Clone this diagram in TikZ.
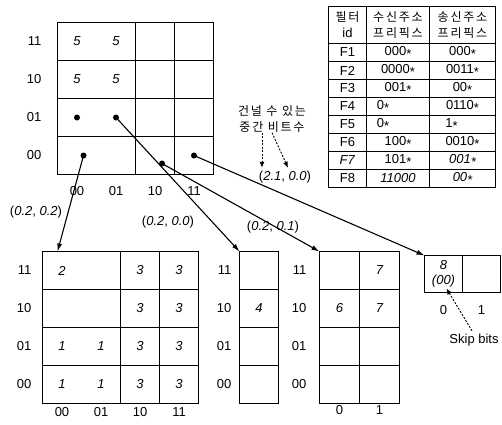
\documentclass[tikz,border=0pt]{standalone}
\usepackage{fontspec}
\setmainfont{Liberation Sans}
\newfontfamily\kr[LetterSpace=15]{Noto Sans CJK KR}
\newcommand{\krtxt}[1]{{\kr\fontsize{12}{16}\selectfont #1}}
\newcommand{\st}{\raisebox{-0.35ex}{*}}
\usetikzlibrary{arrows.meta, positioning}

\begin{document}
\begin{tikzpicture}[x=1pt, y=-1pt, >={Latex[length=8pt,width=5pt]}]
    % Define styles for the nodes
    \tikzstyle{cell} = [
        draw, line width=1.4pt, inner sep=0, outer sep=0,
        minimum width=39pt, minimum height=38pt,
        font=\fontsize{13}{15}\selectfont\itshape
    ]
    \tikzstyle{cell_x2} = [cell, minimum width=78pt]
    \tikzstyle{lbl} = [inner sep=0, font=\fontsize{13}{15}\selectfont]
    \tikzstyle{trie_dot} = [circle, fill, inner sep=0, minimum size=6pt]
    \tikzstyle{link} = [->, line width=1.1pt]
    \tikzstyle{hint_arrow} = [
        -{Latex[length=6pt,width=5pt]}, line width=0.9pt,
        dash pattern=on 2pt off 1.5pt
    ]
    \tikzstyle{tcell} = [
        draw, line width=1pt, inner sep=0, outer sep=0,
        minimum height=18pt, font=\fontsize{13}{16}\selectfont
    ]
    \tikzstyle{tid} = [tcell, minimum width=38pt]
    \tikzstyle{tdst} = [tcell, minimum width=63pt]
    \tikzstyle{tsrc} = [tcell, minimum width=66pt]

    \useasboundingbox (0,0) rectangle (502,424);

    % Root grid
    \node[cell_x2, anchor=north west] (r11a) at (57.5,22.5) {5\hspace{32pt}5};
    \node[cell, anchor=west] (r11b) at (r11a.east) {};
    \node[cell, anchor=west] (r11c) at (r11b.east) {};
    \node[cell_x2, below=0pt of r11a] (r10a) {5\hspace{32pt}5};
    \node[cell, anchor=west] (r10b) at (r10a.east) {};
    \node[cell, anchor=west] (r10c) at (r10b.east) {};
    \node[cell_x2, below=0pt of r10a] (r01a) {};
    \node[cell, anchor=west] (r01b) at (r01a.east) {};
    \node[cell, anchor=west] (r01c) at (r01b.east) {};
    \node[cell_x2, below=0pt of r01a] (r00a) {};
    \node[cell, anchor=west] (r00b) at (r00a.east) {};
    \node[cell, anchor=west] (r00c) at (r00b.east) {};

    % Labels for root grid
    \node[lbl, left=16pt of r11a] (rl11) {11};
    \node[lbl, left=16pt of r10a] (rl10) {10};
    \node[lbl, left=16pt of r01a] (rl01) {01};
    \node[lbl, left=16pt of r00a] (rl00) {00};
    \node[lbl, below=12pt of r00a.south, xshift=-19.5pt] (rc00) {00};
    \node[lbl, below=12pt of r00a.south, xshift=19.5pt] (rc01) {01};
    \node[lbl, below=12pt of r00b.south] (rc10) {10};
    \node[lbl, below=12pt of r00c.south] (rc11) {11};

    % Pointers in root grid
    \node[trie_dot] (d01a) at ([xshift=-19.5pt]r01a.center) {};
    \node[trie_dot] (d01b) at ([xshift=19.5pt]r01a.center) {};
    \node[trie_dot] (d00) at ([xshift=-13pt]r00a.center) {};
    \node[trie_dot] (d10) at ([xshift=7pt, yshift=-8pt]r00b.center) {};
    \node[trie_dot] (d11) at (r00c.center) {};

    % Child grid (0.2, 0.2)
    \node[cell_x2, anchor=north west] (q11a) at (42.5,251.5) {2\hspace{32pt}\phantom{2}};
    \node[cell, anchor=west] (q11b) at (q11a.east) {3};
    \node[cell, anchor=west] (q11c) at (q11b.east) {3};
    \node[cell_x2, below=0pt of q11a] (q10a) {};
    \node[cell, anchor=west] (q10b) at (q10a.east) {3};
    \node[cell, anchor=west] (q10c) at (q10b.east) {3};
    \node[cell_x2, below=0pt of q10a] (q01a) {1\hspace{32pt}1};
    \node[cell, anchor=west] (q01b) at (q01a.east) {3};
    \node[cell, anchor=west] (q01c) at (q01b.east) {3};
    \node[cell_x2, below=0pt of q01a] (q00a) {1\hspace{32pt}1};
    \node[cell, anchor=west] (q00b) at (q00a.east) {3};
    \node[cell, anchor=west] (q00c) at (q00b.east) {3};

    \node[lbl, left=11pt of q11a] (ql11) {11};
    \node[lbl, left=11pt of q10a] (ql10) {10};
    \node[lbl, left=11pt of q01a] (ql01) {01};
    \node[lbl, left=11pt of q00a] (ql00) {00};
    \node[lbl, below=4pt of q00a.south, xshift=-19.5pt] (qc00) {00};
    \node[lbl, below=4pt of q00a.south, xshift=19.5pt] (qc01) {01};
    \node[lbl, below=4pt of q00b.south] (qc10) {10};
    \node[lbl, below=4pt of q00c.south] (qc11) {11};

    % Child grid (0.2, 0.0)
    \node[cell, anchor=north west] (s11) at (239.5,251.5) {};
    \node[cell, below=0pt of s11] (s10) {4};
    \node[cell, below=0pt of s10] (s01) {};
    \node[cell, below=0pt of s01] (s00) {};

    \node[lbl, left=8pt of s11] (sl11) {11};
    \node[lbl, left=8pt of s10] (sl10) {10};
    \node[lbl, left=8pt of s01] (sl01) {01};
    \node[lbl, left=8pt of s00] (sl00) {00};

    % Child grid (0.2, 0.1)
    \node[cell, minimum width=40pt, anchor=north west] (t11a) at (319.5,251.5) {};
    \node[cell, minimum width=40pt, anchor=west] (t11b) at (t11a.east) {7};
    \node[cell, minimum width=40pt, below=0pt of t11a] (t10a) {6};
    \node[cell, minimum width=40pt, anchor=west] (t10b) at (t10a.east) {7};
    \node[cell, minimum width=40pt, below=0pt of t10a] (t01a) {};
    \node[cell, minimum width=40pt, anchor=west] (t01b) at (t01a.east) {};
    \node[cell, minimum width=40pt, below=0pt of t01a] (t00a) {};
    \node[cell, minimum width=40pt, anchor=west] (t00b) at (t00a.east) {};

    \node[lbl, left=13pt of t11a] (tl11) {11};
    \node[lbl, left=13pt of t10a] (tl10) {10};
    \node[lbl, left=13pt of t01a] (tl01) {01};
    \node[lbl, left=13pt of t00a] (tl00) {00};
    \node[lbl, below=2pt of t00a.south] (tc0) {0};
    \node[lbl, below=2pt of t00b.south] (tc1) {1};

    % Child grid with skip bits
    \node[
        cell, minimum width=38pt, minimum height=37pt, anchor=north west,
        align=center
    ] (u0) at (424.5,255.5) {8\\(00)};
    \node[cell, minimum width=38pt, minimum height=37pt, anchor=west] (u1) at (u0.east) {};
    \node[lbl, below=13pt of u0.south] (uc0) {0};
    \node[lbl, below=13pt of u1.south] (uc1) {1};
    \node[lbl] (skip) at (474,340) {Skip bits};
    \draw[hint_arrow] ([xshift=-2pt, yshift=3pt]skip.north) -- ([xshift=3pt, yshift=4pt]u0.south);

    % Pointer arrows
    \draw[link] (d00.center) -- ([xshift=15pt]q11a.north west);
    \draw[link] (d01b.center) -- (s11.north west);
    \draw[link] (d10.center) -- (t11a.north west);
    \draw[link] (d11.center) -- (u0.north west);

    % Arrow labels
    \node[lbl] (w02) at (36,212) {(\textit{0.2}, \textit{0.2})};
    \node[lbl] (w00) at (168,222) {(\textit{0.2}, \textit{0.0})};
    \node[lbl] (w01) at (273,227) {(\textit{0.2}, \textit{0.1})};
    \node[lbl] (w21) at (285,177) {(\textit{2.1}, \textit{0.0})};

    % Hint for skippable bits
    \node[lbl, align=center, font=\kr\fontsize{12}{16}\selectfont] (hint) at (272,119)
        {건널 수 있는\\중간 비트수};
    \draw[hint_arrow] ([xshift=-10pt]hint.south) -- ([xshift=-23pt, yshift=3pt]w21.north);
    \draw[hint_arrow] ([xshift=0pt]hint.south) -- ([xshift=3pt, yshift=3pt]w21.north);

    % Filter table
    \node[tid, minimum height=37pt, anchor=north west, align=center] (hid) at (328.5,6.5)
        {\krtxt{필터}\\id};
    \node[tdst, minimum height=37pt, anchor=west, align=center] (hdst) at (hid.east)
        {\krtxt{수신주소}\\\krtxt{프리픽스}};
    \node[tsrc, minimum height=37pt, anchor=west, align=center] (hsrc) at (hdst.east)
        {\krtxt{송신주소}\\\krtxt{프리픽스}};

    \node[tid, below=0pt of hid] (f1) {F1};
    \node[tdst, anchor=west] (f1d) at (f1.east) {000\st};
    \node[tsrc, anchor=west] (f1s) at (f1d.east) {000\st};
    \node[tid, below=0pt of f1] (f2) {F2};
    \node[tdst, anchor=west] (f2d) at (f2.east) {0000\st};
    \node[tsrc, anchor=west] (f2s) at (f2d.east) {0011\st};
    \node[tid, below=0pt of f2] (f3) {F3};
    \node[tdst, anchor=west] (f3d) at (f3.east) {001\st};
    \node[tsrc, anchor=west] (f3s) at (f3d.east) {00\st};
    \node[tid, below=0pt of f3] (f4) {F4};
    \node[tdst, anchor=west] (f4d) at (f4.east) {0\st\kern30pt};
    \node[tsrc, anchor=west] (f4s) at (f4d.east) {0110\st};
    \node[tid, below=0pt of f4] (f5) {F5};
    \node[tdst, anchor=west] (f5d) at (f5.east) {0\st\kern30pt};
    \node[tsrc, anchor=west] (f5s) at (f5d.east) {1\st\kern22pt};
    \node[tid, below=0pt of f5] (f6) {F6};
    \node[tdst, anchor=west] (f6d) at (f6.east) {100\st};
    \node[tsrc, anchor=west] (f6s) at (f6d.east) {0010\st};
    \node[tid, below=0pt of f6] (f7) {\textit{F7}};
    \node[tdst, anchor=west] (f7d) at (f7.east) {101\st};
    \node[tsrc, anchor=west] (f7s) at (f7d.east) {\textit{001\st}};
    \node[tid, below=0pt of f7] (f8) {F8};
    \node[tdst, anchor=west] (f8d) at (f8.east) {\textit{11000}};
    \node[tsrc, anchor=west] (f8s) at (f8d.east) {\textit{00\st}};

\end{tikzpicture}
\end{document}
